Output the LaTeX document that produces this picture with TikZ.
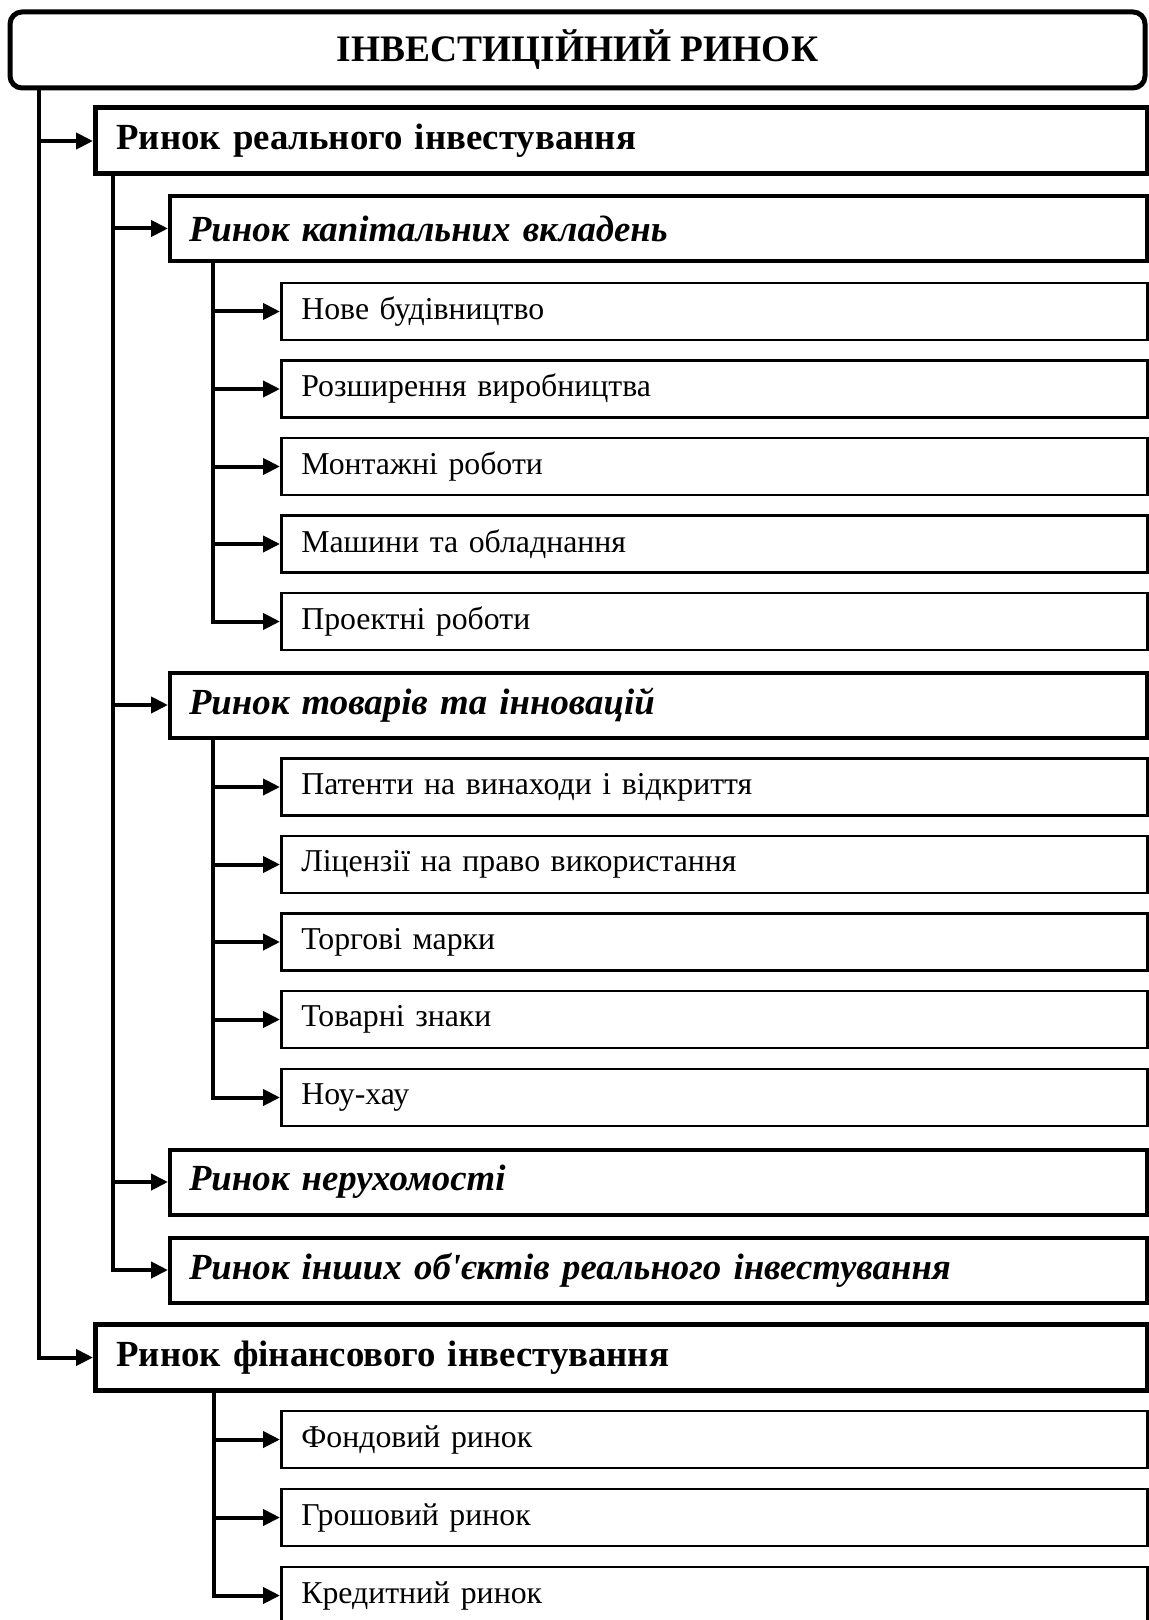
\documentclass[tikz,border=0pt]{standalone}
\usepackage{fontspec}
\setmainfont{Liberation Serif}
\usepackage{tikz}
\usetikzlibrary{arrows.meta}

\begin{document}
\begin{tikzpicture}[x=0.5pt,y=-0.5pt,
  headbox/.style={draw,line width=2.5pt,rounded corners=6pt,minimum width=567.5pt,minimum height=38pt,
    font=\fontsize{18.7}{22}\selectfont\bfseries},
  lvlone/.style={draw,line width=2.5pt,anchor=west,align=left,text width=505pt,inner xsep=10.5pt,
    inner ysep=0pt,minimum height=33pt,font=\fontsize{18.4}{21}\selectfont\bfseries},
  lvltwo/.style={draw,line width=2pt,anchor=west,align=left,text width=469.5pt,inner xsep=9.5pt,
    inner ysep=0pt,minimum height=32.5pt,font=\fontsize{18.4}{21}\selectfont\bfseries\itshape},
  lvlthree/.style={draw,line width=1.3pt,anchor=west,align=left,text width=413pt,inner xsep=10pt,
    inner ysep=0pt,minimum height=28.5pt,font=\fontsize{15.9}{18}\selectfont},
  link/.style={line width=2pt,-{Triangle[length=8.5pt,width=8pt]}}]
\useasboundingbox (0,0) rectangle (1149,1620);

% head
\node[headbox] (rynok) at (577.5,50) {ІНВЕСТИЦІЙНИЙ РИНОК};

% level 1
\node[lvlone] (realne) at (93,141) {Ринок реального інвестування};
\node[lvlone] (finans) at (93,1357.5) {Ринок фінансового інвестування};

% level 2
\node[lvltwo] (kapvkl) at (168,228.5) {Ринок капітальних вкладень};
\node[lvltwo] (tovinn) at (168,705) {Ринок товарів та інновацій};
\node[lvltwo] (neruh) at (168,1182) {Ринок нерухомості};
\node[lvltwo] (inshi) at (168,1270) {Ринок інших об{\addfontfeature{Ligatures=TeXOff}'}єктів реального інвестування};

% level 3
\node[lvlthree] (nove) at (280,311.5) {Нове будівництво};
\node[lvlthree] (rozsh) at (280,389) {Розширення виробництва};
\node[lvlthree] (montazh) at (280,466.5) {Монтажні роботи};
\node[lvlthree] (mashyny) at (280,544) {Машини та обладнання};
\node[lvlthree] (proekt) at (280,621.5) {Проектні роботи};

\node[lvlthree] (patenty) at (280,787) {Патенти на винаходи і відкриття};
\node[lvlthree] (litsenz) at (280,864.5) {Ліцензії на право використання};
\node[lvlthree] (torhmar) at (280,942) {Торгові марки};
\node[lvlthree] (tovznak) at (280,1019.5) {Товарні знаки};
\node[lvlthree] (nouhau) at (280,1097.5) {Ноу-хау};

\node[lvlthree] (fondov) at (280,1439.5) {Фондовий ринок};
\node[lvlthree] (hroshov) at (280,1517.5) {Грошовий ринок};
\node[lvlthree] (kredyt) at (280,1595.5) {Кредитний ринок};

% connectors
\draw[link] ([xshift=15.5pt]rynok.south west) |- (realne.west);
\draw[link] ([xshift=15.5pt]rynok.south west) |- (finans.west);

\draw[link] ([xshift=10pt]realne.south west) |- (kapvkl.west);
\draw[link] ([xshift=10pt]realne.south west) |- (tovinn.west);
\draw[link] ([xshift=10pt]realne.south west) |- (neruh.west);
\draw[link] ([xshift=10pt]realne.south west) |- (inshi.west);

\draw[link] ([xshift=22.5pt]kapvkl.south west) |- (nove.west);
\draw[link] ([xshift=22.5pt]kapvkl.south west) |- (rozsh.west);
\draw[link] ([xshift=22.5pt]kapvkl.south west) |- (montazh.west);
\draw[link] ([xshift=22.5pt]kapvkl.south west) |- (mashyny.west);
\draw[link] ([xshift=22.5pt]kapvkl.south west) |- (proekt.west);

\draw[link] ([xshift=22.5pt]tovinn.south west) |- (patenty.west);
\draw[link] ([xshift=22.5pt]tovinn.south west) |- (litsenz.west);
\draw[link] ([xshift=22.5pt]tovinn.south west) |- (torhmar.west);
\draw[link] ([xshift=22.5pt]tovinn.south west) |- (tovznak.west);
\draw[link] ([xshift=22.5pt]tovinn.south west) |- (nouhau.west);

\draw[link] ([xshift=60.5pt]finans.south west) |- (fondov.west);
\draw[link] ([xshift=60.5pt]finans.south west) |- (hroshov.west);
\draw[link] ([xshift=60.5pt]finans.south west) |- (kredyt.west);
\end{tikzpicture}
\end{document}
